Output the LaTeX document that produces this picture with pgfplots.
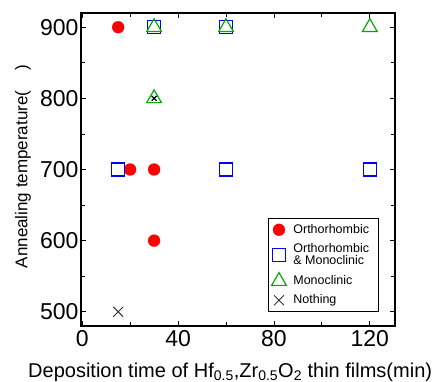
\documentclass[border=0pt]{standalone}
\usepackage{pgfplots}
\pgfplotsset{compat=1.18}
\usepackage{fontspec}
\setmainfont{Liberation Sans}
\definecolor{ored}{RGB}{255,0,0}
\definecolor{oblue}{RGB}{0,0,255}
\definecolor{ogreen}{RGB}{0,170,0}
\begin{document}
\begin{tikzpicture}
\begin{axis}[
  at={(0pt,0pt)}, anchor=south west,
  scale only axis,
  width=314pt, height=313pt,
  xmin=-0.5, xmax=130.5, ymin=480, ymax=920,
  xtick={0,40,80,120}, ytick={500,600,700,800,900},
  minor xtick={20,60,100}, minor ytick={550,650,750,850},
  tick align=inside,
  major tick length=5pt, minor tick length=4pt,
  tick style={black, line width=0.8pt},
  axis line style={line width=1.6pt},
  /pgf/number format/assume math mode=true,
  tick label style={font=\fontsize{23}{23}\selectfont},
  yticklabel style={xshift=1pt},
  xticklabel style={yshift=-1pt},
  xlabel={Deposition time of Hf\textsubscript{0.5},Zr\textsubscript{0.5}O\textsubscript{2} thin films(min)},
  ylabel={Annealing temperature(\hspace{1.2em})},
  xlabel style={font=\fontsize{20}{20}\selectfont, at={(axis description cs:0.475,-0.163)}, anchor=base},
  ylabel style={font=\fontsize{17}{17}\selectfont, at={(axis description cs:-0.185,0.51)}, anchor=center},
  legend style={at={(rel axis cs:0.596,0.345)}, anchor=north west, font=\fontsize{12.5}{12}\selectfont,
    draw=black, line width=1pt, row sep=4.5pt, inner xsep=3pt, inner ysep=4pt, nodes={align=left}},
  legend cell align=left,
]
\addplot[only marks, mark=x, mark size=3pt, color=black, mark options={line width=1.2pt}, forget plot]
  coordinates {(15,900)};
\addplot[only marks, mark=*, mark size=6pt, color=ored, mark options={line width=0.2pt}]
  coordinates {(15,900) (20,700) (30,700) (30,600)};
\addlegendentry{\hspace*{5pt}Orthorhombic\hspace*{4pt}}
\addplot[only marks, mark=square, mark size=6.5pt, color=oblue, mark options={line width=1.4pt}]
  coordinates {(15,700) (30,900) (60,900) (60,700) (120,700)};
\addlegendentry{\hspace*{5pt}Orthorhombic\\\hspace*{5pt}\& Monoclinic}
\addplot[only marks, mark=triangle, mark size=8.5pt, color=ogreen, mark options={line width=1.2pt}]
  coordinates {(30,900) (60,900) (120,900) (30,800)};
\addlegendentry{\hspace*{5pt}Monoclinic}
\addplot[only marks, mark=x, mark size=7pt, color=black!80, mark options={line width=0.9pt}]
  coordinates {(15,500)};
\addlegendentry{\hspace*{5pt}Nothing}
\addplot[only marks, mark=x, mark size=3.5pt, color=black, mark options={line width=1.2pt}, forget plot]
  coordinates {(30,800)};
\end{axis}
\pgfresetboundingbox
\path[use as bounding box] (-81pt,-56pt) rectangle (353pt,326pt);
\end{tikzpicture}
\end{document}
